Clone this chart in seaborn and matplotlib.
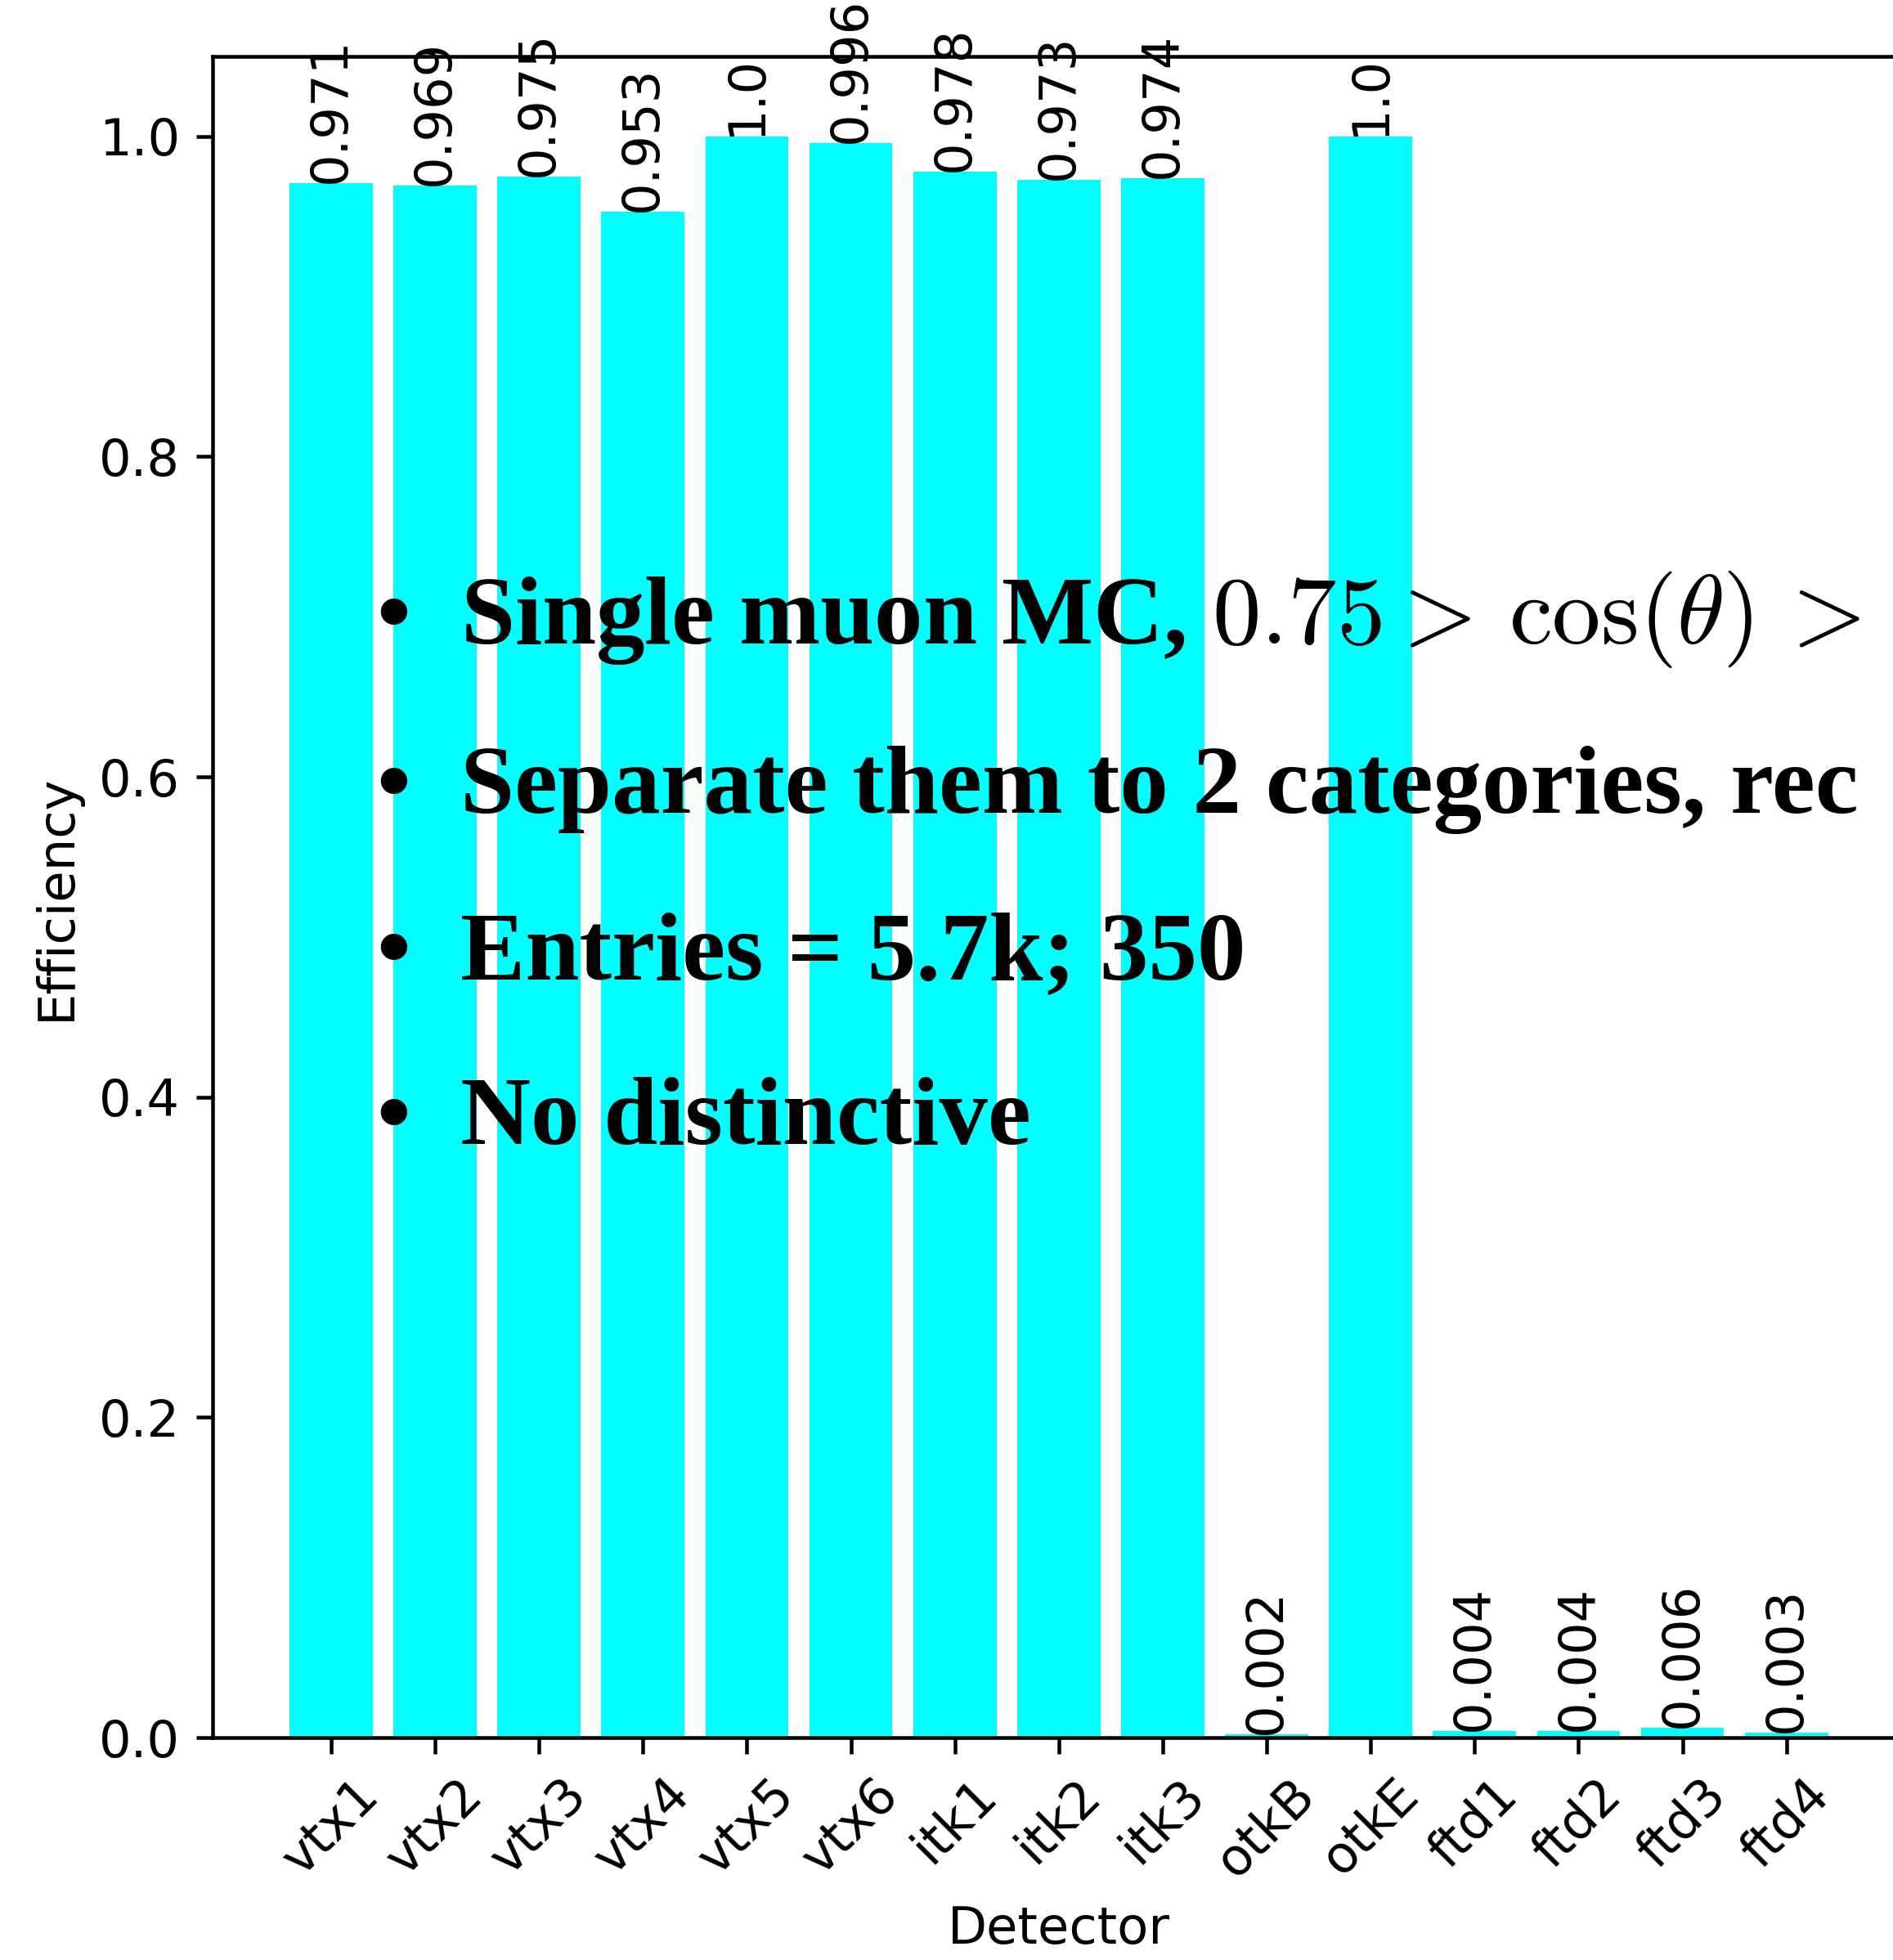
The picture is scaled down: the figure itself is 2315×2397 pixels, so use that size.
import numpy as np
import pandas as pd
import seaborn as sns
import matplotlib.pyplot as plt

detectors = ['vtx1', 'vtx2', 'vtx3', 'vtx4', 'vtx5', 'vtx6', 'itk1', 'itk2', 'itk3',
             'otkB', 'otkE', 'ftd1', 'ftd2', 'ftd3', 'ftd4']
efficiency = [0.971, 0.969, 0.975, 0.953, 1.0, 0.996, 0.978, 0.973, 0.974,
              0.002, 1.0, 0.004, 0.004, 0.006, 0.003]

bullets = [
    r'Single muon MC, $0.75 > \,\cos(\theta)\, >$',
    'Separate them to 2 categories, rec',
    'Entries = 5.7k; 350',
    'No distinctive',
]

df = pd.DataFrame({'Detector': detectors, 'Efficiency': efficiency})

plt.rcParams['mathtext.fontset'] = 'cm'
plt.rcParams['font.size'] = 11
fig = plt.figure(figsize=(2315 / 408, 2397 / 408), dpi=408)
# the original plot was cropped on the right, so the axes run past the figure edge
ax = fig.add_axes([0.1123, 0.1134, 0.894, 0.8579])

sns.barplot(data=df, x='Detector', y='Efficiency', color='cyan', saturation=1,
            width=0.8, linewidth=0, ax=ax)

n = len(detectors)
pad = 0.05 * (n - 0.2)
ax.set_xlim(-0.4 - pad, n - 0.6 + pad)
ax.set_ylim(0, 1.05)
ax.set_yticks(np.arange(0, 1.01, 0.2))

for i, v in enumerate(efficiency):
    ax.text(i, v, str(v), rotation=90, ha='center', va='bottom', fontsize=11)

ax.tick_params(axis='x', labelrotation=45)
ax.set_xlabel('Detector')
ax.set_ylabel('Efficiency')

# overlay slide text
line_y = [0.6717, 0.5853, 0.5006, 0.4163]
for y, txt in zip(line_y, bullets):
    fig.text(0.208, y, '\u2022', ha='center', va='baseline', fontsize=21,
             fontweight='bold', family='Liberation Serif')
    fig.text(0.243, y, txt, ha='left', va='baseline', fontsize=21,
             fontweight='bold', family='Liberation Serif')

fig.savefig('out.png', dpi=408)
